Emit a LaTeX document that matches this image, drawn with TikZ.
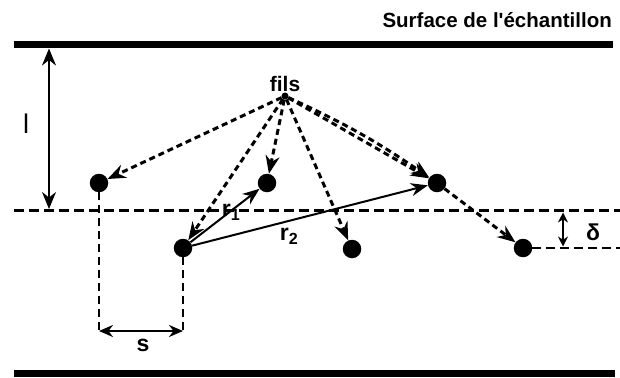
\documentclass[tikz,border=0pt]{standalone}
\usepackage{fontspec}
\setmainfont{Liberation Sans}
\usetikzlibrary{arrows.meta}

\begin{document}
\begin{tikzpicture}[x=1pt, y=-1pt,
    dot/.style = {circle, fill, inner sep=0pt, minimum size=18.5pt},
    ray/.style = {line width=3pt, dash pattern=on 6pt off 4pt, -{Stealth[length=18pt,width=14pt]}},
    vec/.style = {line width=2pt, -{Stealth[length=17pt,width=13pt]}},
    proj/.style = {line width=2pt, dash pattern=on 8pt off 5pt},
    lbl/.style = {font=\fontsize{23}{25}\selectfont\bfseries, inner sep=0pt}]

    \useasboundingbox (0,0) rectangle (620,377);

    % surfaces
    \node[font=\fontsize{20.5}{22}\selectfont\bfseries, anchor=base east, inner sep=0pt] (surf) at (612,27.5) {Surface de l\textquotesingle échantillon};
    \draw[line width=7pt] (14,44.5) -- (613,44.5);
    \draw[line width=7pt] (14,373.5) -- (615,373.5);
    \draw[line width=3.4pt, dash pattern=on 10pt off 5pt] (14,210.5) -- (620,210.5);

    % profondeur l
    \coordinate (ltop) at (49,48.5);
    \coordinate (lbot) at (49,209);
    \draw[line width=1.6pt, {Stealth[length=17pt,width=14pt]}-{Stealth[length=17pt,width=14pt]}] (ltop) -- (lbot);
    \node[font=\fontsize{27}{29}\selectfont, inner sep=0pt] (l) at (26,124) {l};

    % atomes
    \node[dot] (a) at (99,183) {};
    \node[dot] (e) at (267,183) {};
    \node[dot] (c) at (437,183) {};
    \node[dot] (b) at (183,248) {};
    \node[dot] (f) at (352,249) {};
    \node[dot] (d) at (523,248) {};
    \node[circle, fill, inner sep=0pt, minimum size=7pt,
          label={[font=\fontsize{21}{23}\selectfont\bfseries, inner sep=0pt, label distance=0pt]above:fils}] (src) at (285,96) {};

    \draw[ray] (src) -- (a);
    \draw[ray] (src) -- (b);
    \draw[ray] (src) -- (e);
    \draw[ray] (src) -- (f);
    \draw[ray] (src) -- (c);
    \draw[ray] (src) to[bend left=5] (c);
    \draw[ray] (c) -- (d);

    \draw[vec] (b) -- (e);
    \draw[vec] (b) -- (c);
    \node[lbl] (r1) at (231,212) {r\textsubscript{1}};
    \node[lbl] (r2) at (289,236) {r\textsubscript{2}};

    % distance s
    \coordinate (sl) at (99,331);
    \coordinate (sr) at (183,331);
    \draw[proj] (a) -- (sl);
    \draw[proj] (b) -- (sr);
    \draw[line width=2.2pt, {Stealth[length=14pt,width=12pt]}-{Stealth[length=14pt,width=12pt]}] (sl) -- (sr);
    \node[lbl] (s) at (143,345) {s};

    % decalage delta
    \coordinate (dr) at (620,248);
    \draw[line width=2.8pt, dash pattern=on 9pt off 5pt] (d) -- (dr);
    \coordinate (d1) at (563,212.5);
    \coordinate (d2) at (563,246.5);
    \draw[line width=1.8pt, {Stealth[length=10pt,width=10pt]}-{Stealth[length=10pt,width=10pt]}] (d1) -- (d2);
    \node[lbl] (delta) at (593,232) {δ};

\end{tikzpicture}
\end{document}
